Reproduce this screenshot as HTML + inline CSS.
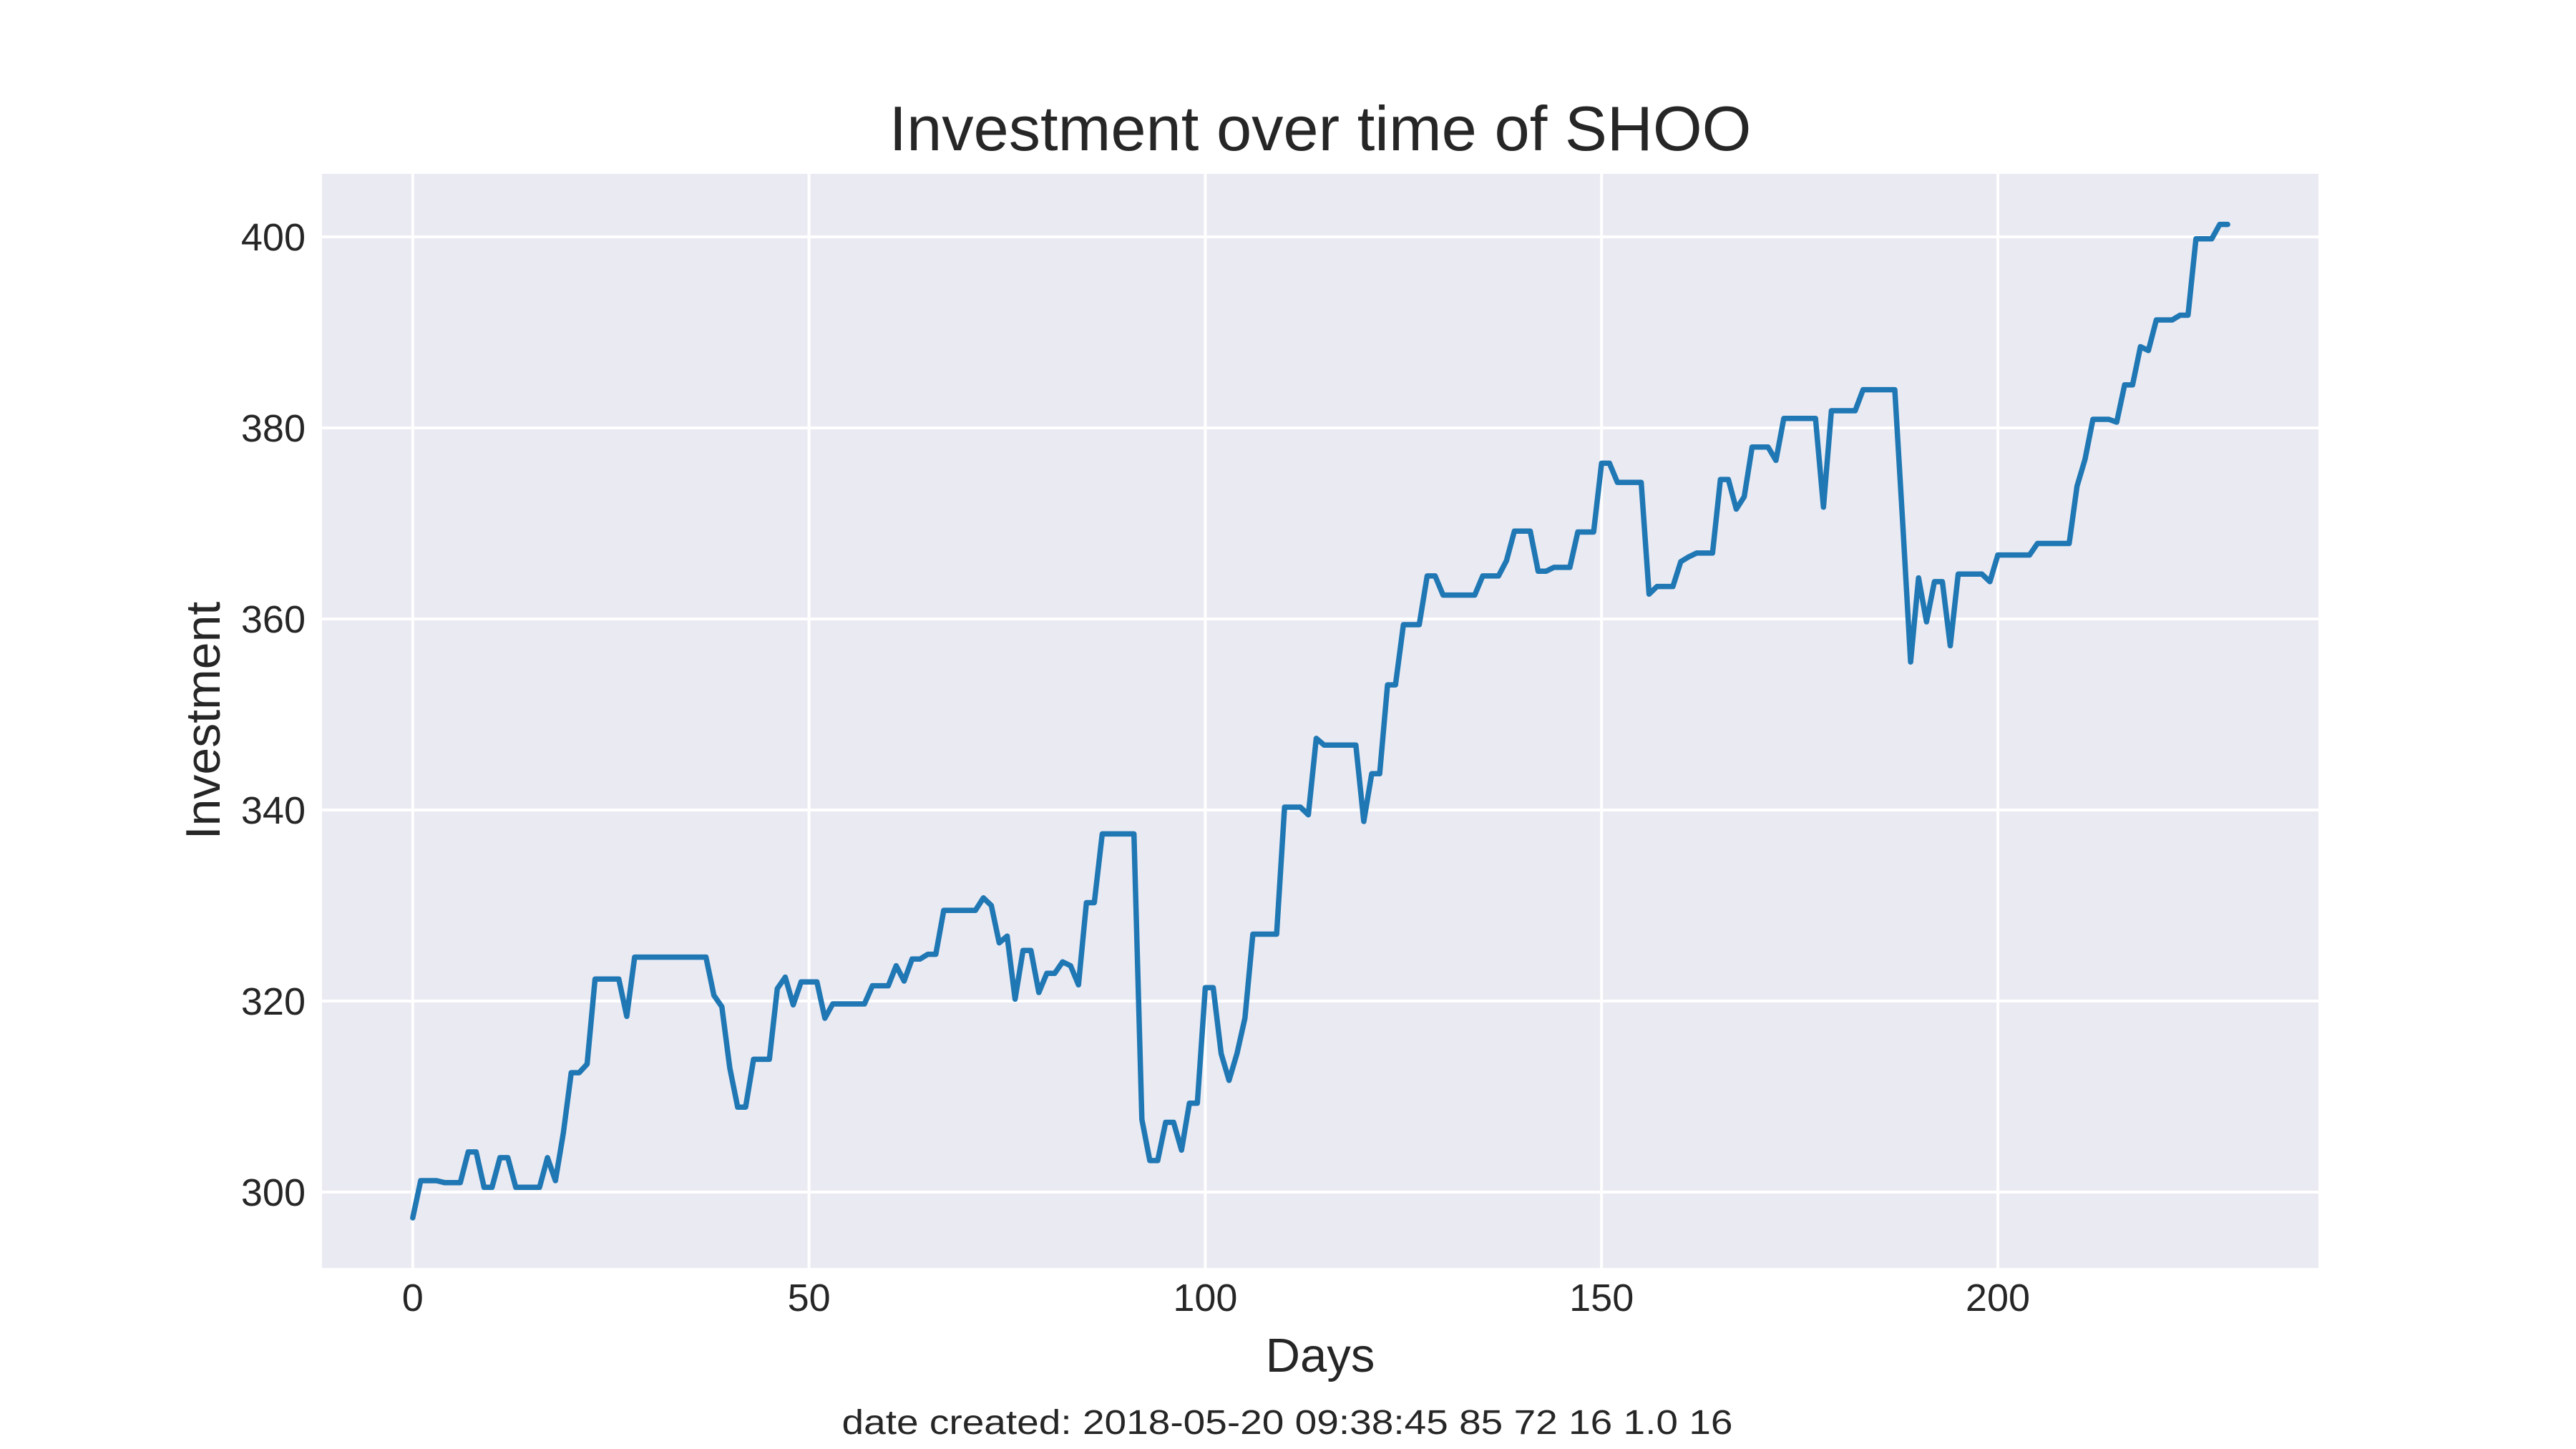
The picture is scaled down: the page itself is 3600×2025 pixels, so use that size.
<!DOCTYPE html>
<html><head><meta charset="utf-8"><style>
html,body{margin:0;padding:0;background:#fff;}
svg{display:block;}
text{font-family:"Liberation Sans",Arial,sans-serif;fill:#262626;}
</style></head>
<body>
<svg id="chart" width="3600" height="2025" viewBox="0 0 3600 2025" xmlns="http://www.w3.org/2000/svg">
<rect x="0" y="0" width="3600" height="2025" fill="#ffffff"/>
<rect x="450" y="243" width="2790" height="1529" fill="#eaeaf2"/>
<g id="grid"></g>
<g id="ticks"></g>
<g id="series"></g>
<text x="1845" y="210" font-size="88" text-anchor="middle" textLength="1205" lengthAdjust="spacingAndGlyphs">Investment over time of SHOO</text>
<text x="1845" y="1917" font-size="67" text-anchor="middle">Days</text>
<text transform="translate(307,1007) rotate(-90)" x="0" y="0" font-size="68" text-anchor="middle">Investment</text>
<text x="1799" y="2004" font-size="48" text-anchor="middle" textLength="1245" lengthAdjust="spacingAndGlyphs">date created: 2018-05-20 09:38:45 85 72 16 1.0 16</text>
</svg>
<script>
const xTicks = [0, 50, 100, 150, 200];
const yTicks = [300, 320, 340, 360, 380, 400];
const investment = [
297.3,301.2,301.2,301.2,301.0,301.0,301.0,304.2,304.2,300.5,
300.5,303.6,303.6,300.5,300.5,300.5,300.5,303.6,301.2,306.2,
312.5,312.5,313.4,322.3,322.3,322.3,322.3,318.4,324.6,324.6,
324.6,324.6,324.6,324.6,324.6,324.6,324.6,324.6,320.6,319.4,
313.0,308.9,308.9,313.9,313.9,313.9,321.3,322.5,319.6,322.0,
322.0,322.0,318.2,319.7,319.7,319.7,319.7,319.7,321.6,321.6,
321.6,323.7,322.1,324.4,324.4,324.9,324.9,329.5,329.5,329.5,
329.5,329.5,330.8,330.0,326.1,326.8,320.2,325.3,325.3,320.9,
322.9,322.9,324.1,323.7,321.7,330.3,330.3,337.5,337.5,337.5,
337.5,337.5,307.6,303.3,303.3,307.3,307.3,304.4,309.3,309.3,
321.4,321.4,314.5,311.7,314.5,318.2,327.0,327.0,327.0,327.0,
340.3,340.3,340.3,339.5,347.5,346.8,346.8,346.8,346.8,346.8,
338.8,343.8,343.8,353.1,353.1,359.4,359.4,359.4,364.5,364.5,
362.5,362.5,362.5,362.5,362.5,364.5,364.5,364.5,366.1,369.2,
369.2,369.2,365.0,365.0,365.4,365.4,365.4,369.1,369.1,369.1,
376.3,376.3,374.3,374.3,374.3,374.3,362.6,363.4,363.4,363.4,
366.0,366.5,366.9,366.9,366.9,374.6,374.6,371.5,372.8,378.0,
378.0,378.0,376.6,381.0,381.0,381.0,381.0,381.0,371.7,381.8,
381.8,381.8,381.8,384.0,384.0,384.0,384.0,384.0,370.0,355.5,
364.3,359.7,363.9,363.9,357.2,364.7,364.7,364.7,364.7,363.9,
366.7,366.7,366.7,366.7,366.7,367.9,367.9,367.9,367.9,367.9,
373.9,376.7,380.9,380.9,380.9,380.6,384.5,384.5,388.5,388.1,
391.3,391.3,391.3,391.8,391.8,399.8,399.8,399.8,401.3,401.3
];

const NS = "http://www.w3.org/2000/svg";
const PL = 450, PR = 3240, PT = 243, PB = 1772;
const n = investment.length;
const xmin = -0.05 * (n - 1), xmax = (n - 1) * 1.05;
function xScale(d) { return PL + (d - xmin) / (xmax - xmin) * (PR - PL); }
function yScale(v) { return 1666 - (v - 300) * 13.35; }

const grid = document.getElementById('grid');
const ticks = document.getElementById('ticks');
xTicks.forEach(t => {
  const l = document.createElementNS(NS, 'line');
  l.setAttribute('x1', xScale(t)); l.setAttribute('x2', xScale(t));
  l.setAttribute('y1', PT); l.setAttribute('y2', PB);
  l.setAttribute('stroke', '#ffffff'); l.setAttribute('stroke-width', '4');
  
  
  grid.appendChild(l);
  const tx = document.createElementNS(NS, 'text');
  tx.setAttribute('x', xScale(t)); tx.setAttribute('y', 1832);
  tx.setAttribute('font-size', '54'); tx.setAttribute('text-anchor', 'middle');
  tx.textContent = t;
  
  
  ticks.appendChild(tx);
});
yTicks.forEach(t => {
  const l = document.createElementNS(NS, 'line');
  l.setAttribute('x1', PL); l.setAttribute('x2', PR);
  l.setAttribute('y1', yScale(t)); l.setAttribute('y2', yScale(t));
  l.setAttribute('stroke', '#ffffff'); l.setAttribute('stroke-width', '4');
  
  
  grid.appendChild(l);
  const tx = document.createElementNS(NS, 'text');
  tx.setAttribute('x', 427); tx.setAttribute('y', yScale(t) + 19);
  tx.setAttribute('font-size', '54'); tx.setAttribute('text-anchor', 'end');
  tx.textContent = t;
  
  
  ticks.appendChild(tx);
});

const pts = investment.map((v, i) => xScale(i).toFixed(1) + ',' + yScale(v).toFixed(1)).join(' ');
const line = document.createElementNS(NS, 'polyline');
line.setAttribute('points', pts);
line.setAttribute('fill', 'none');
line.setAttribute('stroke', '#1f77b4');
line.setAttribute('stroke-width', '7.5');
line.setAttribute('stroke-linejoin', 'round');
line.setAttribute('stroke-linecap', 'round');


document.getElementById('series').appendChild(line);
</script>
</body></html>
